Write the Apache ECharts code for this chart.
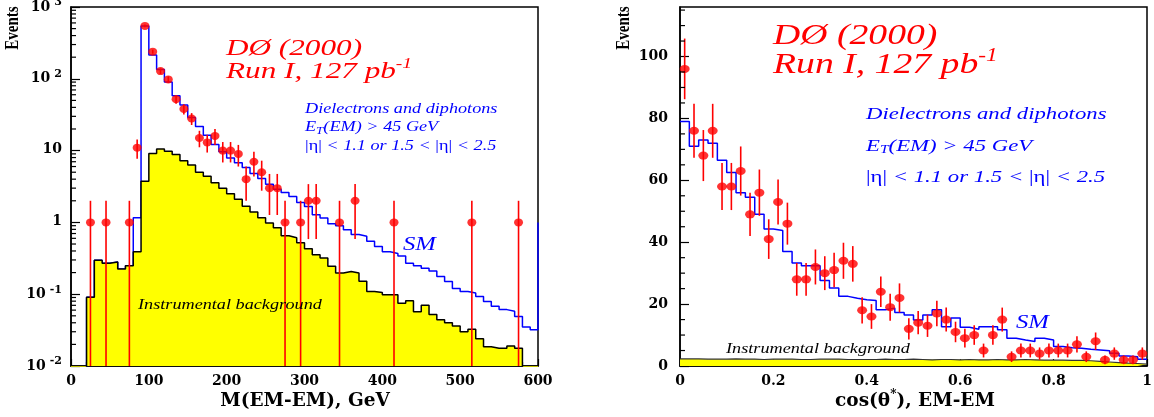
<!DOCTYPE html>
<html><head><meta charset="utf-8">
<script src="https://cdn.jsdelivr.net/npm/echarts@6/dist/echarts.min.js"></script>
<style>html,body{margin:0;padding:0;background:#fff}#c{width:1154px;height:417px}</style>
</head><body><div id="c"></div>
<script>
// ---------------- LEFT PANEL: M(EM-EM) ----------------
const massBinWidth = 10;
const massBinStarts = Array.from({length: 60}, (_, i) => i * massBinWidth);
// Standard Model expectation per 10 GeV bin (0..600 GeV)
const massSM = [0, 0, 0.091, 0.296, 0.27, 0.28, 0.224, 0.25, 1.16, 545,
  214, 135, 90, 58, 43, 29, 21.6, 16.3, 12.2, 9.6,
  7.9, 6.8, 5.8, 4.8, 4.1, 3.4, 2.9, 2.6, 2.3, 1.9,
  1.66, 1.28, 1.15, 0.96, 0.90, 0.79, 0.68, 0.64, 0.545, 0.46,
  0.39, 0.37, 0.34, 0.27, 0.25, 0.23, 0.21, 0.177, 0.15, 0.12,
  0.109, 0.104, 0.093, 0.079, 0.068, 0.061, 0.058, 0.049, 0.035, 0.032];
const massSMOverflow = 1.0;
// Instrumental background per bin
const massBG = [0, 0, 0.091, 0.296, 0.27, 0.28, 0.224, 0.25, 0.39, 3.75,
  9.1, 10.5, 9.8, 8.8, 7.2, 6.3, 5.0, 4.4, 3.56, 3.0,
  2.5, 2.1, 1.68, 1.40, 1.16, 0.98, 0.84, 0.65, 0.61, 0.52,
  0.43, 0.355, 0.32, 0.245, 0.197, 0.207, 0.197, 0.151, 0.109, 0.106,
  0.098, 0.098, 0.075, 0.081, 0.057, 0.070, 0.052, 0.044, 0.040, 0.036,
  0.030, 0.0325, 0.024, 0.0186, 0.0177, 0.0177, 0.019, 0.0177, 0, 0];
// Data points (bin centre, events)
const massDataX = [25, 45, 75, 85, 95, 105, 115, 125, 135, 145, 155, 165, 175, 185, 195, 205, 215, 225, 235, 245, 255, 265, 275, 295, 305, 315, 345, 365, 415, 515, 575];
const massDataN = [1, 1, 1, 11, 545, 239, 128, 98, 52, 38, 28, 15, 13, 16, 10, 10, 9, 4, 7, 5, 3, 3, 1, 1, 2, 2, 1, 2, 1, 1, 1];
const massTicks = [0, 100, 200, 300, 400, 500, 600];

// ---------------- RIGHT PANEL: cos(theta*) ----------------
const cosBinWidth = 0.02;
const cosBinStarts = Array.from({length: 50}, (_, i) => +(i * cosBinWidth).toFixed(2));
const cosSM = [79, 71, 73, 72, 66.5, 62.5, 56, 54.5, 49, 44.3,
  43.8, 37, 33.3, 32.4, 32.4, 27.6, 25.2, 22.5, 21.9, 21.4,
  21.2, 18.2, 18.7, 17.3, 16.5, 14.9, 16.5, 18.2, 12.7, 15.5,
  12.5, 11.9, 12.7, 12.7, 11.7, 9.0, 8.4, 7.9, 9.0, 8.4,
  6.3, 5.9, 5.7, 5.4, 5.2, 4.9, 4.1, 3.2, 3.0, 2.2];
const cosBG = [2.3, 2.3, 2.2, 2.2, 2.2, 2.3, 2.2, 2.2, 2.1, 2.2,
  2.2, 2.2, 2.1, 2.1, 2.2, 2.2, 2.2, 2.1, 2.1, 2.1,
  2.1, 2.2, 2.1, 2.1, 2.2, 2.1, 2.0, 2.1, 2.1, 2.0,
  2.1, 2.0, 2.0, 2.1, 2.0, 2.0, 2.1, 2.0, 1.9, 1.9,
  1.9, 1.8, 1.8, 1.7, 1.5, 1.3, 1.1, 0.9, 0.8, 0.6];
const cosDataN = [96, 76, 68, 76, 58, 58, 63, 49, 56, 41,
  53, 46, 28, 28, 32, 30, 31, 34, 33, 18,
  16, 24, 19, 22, 12, 14, 13, 17, 15, 11,
  9, 10, 5, 10, 15, 3, 5, 5, 4, 5,
  5, 5, 7, 3, 8, 2, 4, 2, 2, 4];
const cosDataX = cosBinStarts.map(s => +(s + cosBinWidth / 2).toFixed(3));

// ---------------- helpers ----------------
const LOG_FLOOR = 1e-4;
function stepPoints(starts, vals, width, floor) {
  const pts = starts.map((s, i) => [s, vals[i] > 0 ? vals[i] : floor]);
  const last = vals[vals.length - 1];
  pts.push([starts[starts.length - 1] + width, last > 0 ? last : floor]);
  return pts;
}
function errorBars(xi, yi, xs, ns) {
  return {
    type: 'custom', xAxisIndex: xi, yAxisIndex: yi, z: 4, silent: true,
    data: xs.map((x, i) => [x, ns[i]]),
    encode: {x: 0, y: 1},
    renderItem: function (params, api) {
      const x = api.value(0), n = api.value(1), e = Math.sqrt(n);
      const cs = params.coordSys;
      const hi = api.coord([x, n + e]);
      const lo = n - e;
      const loY = lo <= 0 ? cs.y + cs.height : Math.min(api.coord([x, lo])[1], cs.y + cs.height);
      return {type: 'line', shape: {x1: hi[0], y1: Math.max(hi[1], cs.y), x2: hi[0], y2: loY},
        style: {stroke: '#ff0000', lineWidth: 1.6}};
    }
  };
}
function minorTicks(xi, yi, values, len) {
  return {
    type: 'custom', xAxisIndex: xi, yAxisIndex: yi, z: 6, silent: true,
    data: values.map(v => [0, v]),
    encode: {x: 0, y: 1},
    renderItem: function (params, api) {
      const p = api.coord([0, api.value(1)]);
      const cs = params.coordSys;
      return {type: 'line', shape: {x1: cs.x, y1: p[1], x2: cs.x + len, y2: p[1]},
        style: {stroke: '#000', lineWidth: 1.2}};
    }
  };
}
const logMinor = [];
for (let d = -2; d <= 2; d++) for (let k = 2; k <= 9; k++) logMinor.push(k * Math.pow(10, d));
const linMinor = [];
for (let v = 5; v <= 115; v += 5) if (v % 20 !== 0) linMinor.push(v);

const TICKFONT = {fontFamily: 'DejaVu Serif', fontWeight: 'bold', fontSize: 14, color: '#000'};
const SERIF = 'Liberation Serif';

function xAxisCfg(grid, min, max, interval, minorSplit, fmt) {
  return {
    type: 'value', gridIndex: grid, min: min, max: max, interval: interval,
    axisLine: {show: true, lineStyle: {color: '#000', width: 1.5}},
    axisTick: {show: true, inside: true, length: 7, lineStyle: {color: '#000', width: 1.2}},
    minorTick: {show: true, splitNumber: minorSplit, length: 4, lineStyle: {color: '#000', width: 1.2}},
    splitLine: {show: false}, minorSplitLine: {show: false},
    axisLabel: Object.assign({margin: 8, formatter: fmt}, TICKFONT)
  };
}

const chart = echarts.init(document.getElementById('c'), null, {renderer: 'canvas'});

const option = {
  animation: false,
  backgroundColor: '#fff',
  grid: [
    {left: 71, top: 7, width: 467, height: 359, show: true, borderColor: '#000', borderWidth: 1.5, backgroundColor: 'transparent', containLabel: false, outerBoundsMode: 'none'},
    {left: 680, top: 7, width: 467, height: 359, show: true, borderColor: '#000', borderWidth: 1.5, backgroundColor: 'transparent', containLabel: false, outerBoundsMode: 'none'}
  ],
  xAxis: [
    xAxisCfg(0, 0, 600, 100, 5, v => String(v)),
    xAxisCfg(1, 0, 1, 0.2, 4, v => (v === 0 ? '0' : v === 1 ? '1' : String(+v.toFixed(1))))
  ],
  yAxis: [
    {
      type: 'log', logBase: 10, gridIndex: 0, min: 0.01, max: 1000,
      axisLine: {show: true, lineStyle: {color: '#000', width: 1.5}},
      axisTick: {show: true, inside: true, length: 9, lineStyle: {color: '#000', width: 1.2}},
      splitLine: {show: false},
      axisLabel: {
        margin: 9,
        formatter: function (v) {
          const e = Math.round(Math.log10(v));
          if (e === 0) return '{b|1}';
          if (e === 1) return '{b|10}';
          return '{b|10}{s|' + e + '}';
        },
        rich: {
          b: {fontFamily: 'DejaVu Serif', fontWeight: 'bold', fontSize: 14, color: '#000', verticalAlign: 'bottom', padding: [0, 0, 3, 0]},
          s: {fontFamily: 'DejaVu Serif', fontWeight: 'bold', fontSize: 11, color: '#000', verticalAlign: 'bottom', padding: [0, 0, 9, 4]}
        }
      }
    },
    {
      type: 'value', gridIndex: 1, min: 0, max: 116, interval: 20,
      axisLine: {show: true, lineStyle: {color: '#000', width: 1.5}},
      axisTick: {show: true, inside: true, length: 9, lineStyle: {color: '#000', width: 1.2}},
      splitLine: {show: false},
      axisLabel: Object.assign({margin: 12, showMaxLabel: false, formatter: v => (v % 20 === 0 ? String(v) : '')}, TICKFONT)
    }
  ],
  series: [
    // left panel
    {type: 'line', xAxisIndex: 0, yAxisIndex: 0, z: 2, step: 'end', symbol: 'none', silent: true,
      data: stepPoints(massBinStarts, massSM, massBinWidth, LOG_FLOOR).concat([[massBinStarts[59] + massBinWidth, massSMOverflow]]),
      lineStyle: {color: '#0000ff', width: 1.5}},
    {type: 'line', xAxisIndex: 0, yAxisIndex: 0, z: 3, step: 'end', symbol: 'none', silent: true,
      data: stepPoints(massBinStarts, massBG, massBinWidth, LOG_FLOOR),
      lineStyle: {color: '#000', width: 1.5},
      areaStyle: {color: '#ffff00', opacity: 1, origin: 'start'}},
    errorBars(0, 0, massDataX, massDataN),
    {type: 'scatter', xAxisIndex: 0, yAxisIndex: 0, z: 5, silent: true, symbol: 'circle', symbolSize: [9, 8],
      itemStyle: {color: '#ff0000'}, data: massDataX.map((x, i) => [x, massDataN[i]])},
    minorTicks(0, 0, logMinor, 5),
    // right panel
    {type: 'line', xAxisIndex: 1, yAxisIndex: 1, z: 2, step: 'end', symbol: 'none', silent: true,
      data: stepPoints(cosBinStarts, cosSM, cosBinWidth, 0),
      lineStyle: {color: '#0000ff', width: 1.5}},
    {type: 'line', xAxisIndex: 1, yAxisIndex: 1, z: 3, step: 'end', symbol: 'none', silent: true,
      data: stepPoints(cosBinStarts, cosBG, cosBinWidth, 0),
      lineStyle: {color: '#333', width: 1.2},
      areaStyle: {color: '#ffff00', opacity: 1, origin: 'start'}},
    errorBars(1, 1, cosDataX, cosDataN),
    {type: 'scatter', xAxisIndex: 1, yAxisIndex: 1, z: 5, silent: true, symbol: 'circle', symbolSize: [10, 8],
      itemStyle: {color: '#ff0000'}, data: cosDataX.map((x, i) => [x, cosDataN[i]])},
    minorTicks(1, 1, linMinor, 5)
  ],
  graphic: []
};

function T(x, y, text, size, fill, extra) {
  return Object.assign({
    type: 'text', x: x, y: y, z: 100, silent: true, scaleX: 1.3,
    style: {text: text, fontFamily: SERIF, fontStyle: 'italic', fontSize: size, fill: fill,
      textAlign: 'left', verticalAlign: 'bottom'}
  }, extra || {});
}
function R(x, y, text, rich, extra) {
  return Object.assign({
    type: 'text', x: x, y: y, z: 100, silent: true, scaleX: 1.3,
    style: {text: text, rich: rich, textAlign: 'left', verticalAlign: 'bottom'}
  }, extra || {});
}
function tok(size, fill, va, pad, style) {
  return {fontFamily: SERIF, fontStyle: style || 'italic', fontSize: size, fill: fill, verticalAlign: va, padding: pad || [0, 0, 0, 0]};
}
function runRich(size, sup) {
  return {a: tok(size, '#ff0000', 'bottom'), s: tok(sup, '#ff0000', 'bottom', [0, 0, Math.round(size * 0.5), 0])};
}
function etRich(size, sub, color) {
  return {a: tok(size, color, 'top'), t: tok(sub, color, 'top', [Math.round(size * 0.4), 0, 0, 0])};
}
function etaRich(size, color) {
  return {a: tok(size, color, 'bottom'), u: tok(size, color, 'bottom', null, 'normal')};
}
const etaLine = '{u||η|}{a| < 1.1 or 1.5 < }{u||η|}{a| < 2.5}';

option.graphic = [
  // left panel annotations
  T(226, 61, 'DØ (2000)', 24, '#ff0000'),
  R(226, 84, '{a|Run I, 127 pb}{s|-1}', runRich(24, 15)),
  T(305, 116, 'Dielectrons and diphotons', 14, '#0000ff'),
  R(305, 136, '{a|E}{t|T}{a|(EM) > 45 GeV}', etRich(14, 10, '#0000ff')),
  R(305, 153, etaLine, etaRich(14, '#0000ff')),
  T(403, 254, 'SM', 19, '#0000ff'),
  T(138, 312, 'Instrumental background', 14, '#000'),
  // right panel annotations
  T(773, 51, 'DØ (2000)', 29, '#ff0000'),
  R(773, 80, '{a|Run I, 127 pb}{s|-1}', runRich(29, 18)),
  T(866, 123, 'Dielectrons and diphotons', 17.5, '#0000ff'),
  R(866, 156, '{a|E}{t|T}{a|(EM) > 45 GeV}', etRich(17.5, 12, '#0000ff')),
  R(866, 186, etaLine, etaRich(17.5, '#0000ff')),
  T(1016, 332, 'SM', 19, '#0000ff'),
  T(726, 356, 'Instrumental background', 14, '#000'),
  // axis titles
  {type: 'text', x: 305, y: 411, z: 100, silent: true,
    style: {text: 'M(EM-EM), GeV', fontFamily: 'DejaVu Serif', fontWeight: 'bold', fontSize: 18.5, fill: '#000', textAlign: 'center', verticalAlign: 'bottom'}},
  {type: 'text', x: 915, y: 411, z: 100, silent: true,
    style: {text: '{a|cos(θ}{s|*}{a|), EM-EM}', textAlign: 'center', verticalAlign: 'bottom',
      rich: {a: {fontFamily: 'DejaVu Serif', fontWeight: 'bold', fontSize: 18.5, fill: '#000', verticalAlign: 'bottom'},
             s: {fontFamily: 'DejaVu Serif', fontWeight: 'bold', fontSize: 12, fill: '#000', verticalAlign: 'bottom', padding: [0, 0, 10, 0]}}}},
  {type: 'text', x: 13, y: 28, z: 100, silent: true, rotation: Math.PI / 2, scaleY: 1.25,
    style: {text: 'Events', fontFamily: SERIF, fontWeight: 'bold', fontSize: 15, fill: '#000', textAlign: 'center', verticalAlign: 'middle'}},
  {type: 'text', x: 624, y: 28, z: 100, silent: true, rotation: Math.PI / 2, scaleY: 1.25,
    style: {text: 'Events', fontFamily: SERIF, fontWeight: 'bold', fontSize: 15, fill: '#000', textAlign: 'center', verticalAlign: 'middle'}}
];

chart.setOption(option);
</script>
</body></html>
